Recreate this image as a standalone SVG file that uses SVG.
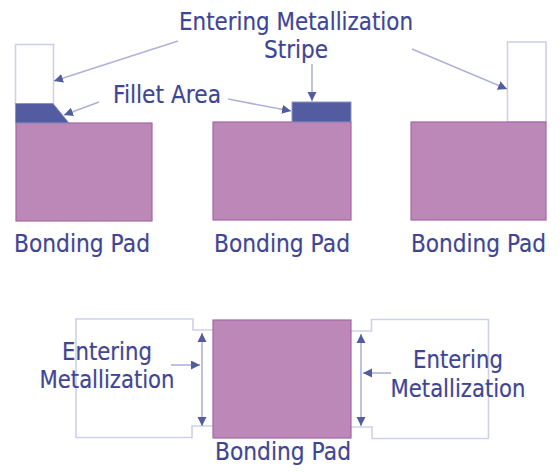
<svg xmlns="http://www.w3.org/2000/svg" width="560" height="472" viewBox="0 0 560 472">
<style>
text{font-family:"DejaVu Sans",sans-serif;font-size:25px;fill:#3f4595;stroke:#3f4595;stroke-width:.2;text-anchor:middle}
.pad{fill:#bb88b8;stroke:#a565a5;stroke-width:1.2}
.out{fill:#fff;stroke:#cfd1e8;stroke-width:1.6}
.dark{fill:#535ca0;stroke:#8d92c4;stroke-width:1}
.c{fill:none;stroke:#aeb2d8;stroke-width:1.6;marker-end:url(#a)}
.d{marker-start:url(#s)}
</style>
<defs>
<marker id="a" markerUnits="userSpaceOnUse" markerWidth="12" markerHeight="10" refX="9" refY="4.500" orient="auto"><path d="M0 0L9 4.500L0 9z" fill="#535ca0"/></marker>
<marker id="s" markerUnits="userSpaceOnUse" markerWidth="12" markerHeight="10" refX="0" refY="4.500" orient="auto"><path d="M9 0L0 4.500L9 9z" fill="#535ca0"/></marker>
</defs>
<g id="stripe-left"><rect class="out" x="15.500" y="44.500" width="38" height="60"/></g>
<g id="pad-left"><rect class="pad" x="16" y="123" width="136" height="98"/><text x="82" y="252" textLength="136" lengthAdjust="spacingAndGlyphs">Bonding Pad</text></g>
<g id="fillet"><path class="dark" d="M15.500 103.500H53L69 123H15.500z"/></g>
<g id="pad-middle"><rect class="pad" x="213" y="122" width="138" height="98"/><text x="282" y="252" textLength="136" lengthAdjust="spacingAndGlyphs">Bonding Pad</text></g>
<g id="stripe-middle"><rect class="dark" x="292" y="102" width="59" height="20"/></g>
<g id="stripe-right"><rect class="out" x="507.500" y="42" width="38.500" height="80"/></g>
<g id="pad-right"><rect class="pad" x="411" y="122" width="135" height="98"/><text x="478.500" y="252" textLength="135" lengthAdjust="spacingAndGlyphs">Bonding Pad</text></g>
<g id="metal-left"><path class="out" d="M213 330H193V319H76V437.500H192V426H213"/></g>
<g id="metal-right"><path class="out" d="M351 331H371.500V319.500H488.500V438.500H372V427H351"/></g>
<g id="pad-bottom"><rect class="pad" x="213" y="320" width="138" height="118"/><text x="283" y="460" textLength="136" lengthAdjust="spacingAndGlyphs">Bonding Pad</text></g>
<g id="connectors">
<path class="c" d="M178 41L54 81"/>
<path class="c" d="M99 102L64 115"/>
<path class="c" d="M228 99L291 111"/>
<path class="c" d="M312 64V101"/>
<path class="c" d="M412 49L507 89"/>
<path class="c d" d="M202 333V426"/>
<path class="c" d="M171 365H200"/>
<path class="c d" d="M361 334V426"/>
<path class="c" d="M391 373H363"/>
</g>
<g id="labels">
<text x="296" y="29.500" textLength="234" lengthAdjust="spacingAndGlyphs">Entering Metallization</text>
<text x="296" y="58" textLength="64" lengthAdjust="spacingAndGlyphs">Stripe</text>
<text x="167" y="103" textLength="108" lengthAdjust="spacingAndGlyphs">Fillet Area</text>
<text x="107" y="360" textLength="90" lengthAdjust="spacingAndGlyphs">Entering</text>
<text x="107" y="388" textLength="135" lengthAdjust="spacingAndGlyphs">Metallization</text>
<text x="458" y="368" textLength="90" lengthAdjust="spacingAndGlyphs">Entering</text>
<text x="458" y="397" textLength="135" lengthAdjust="spacingAndGlyphs">Metallization</text>
</g>
</svg>
